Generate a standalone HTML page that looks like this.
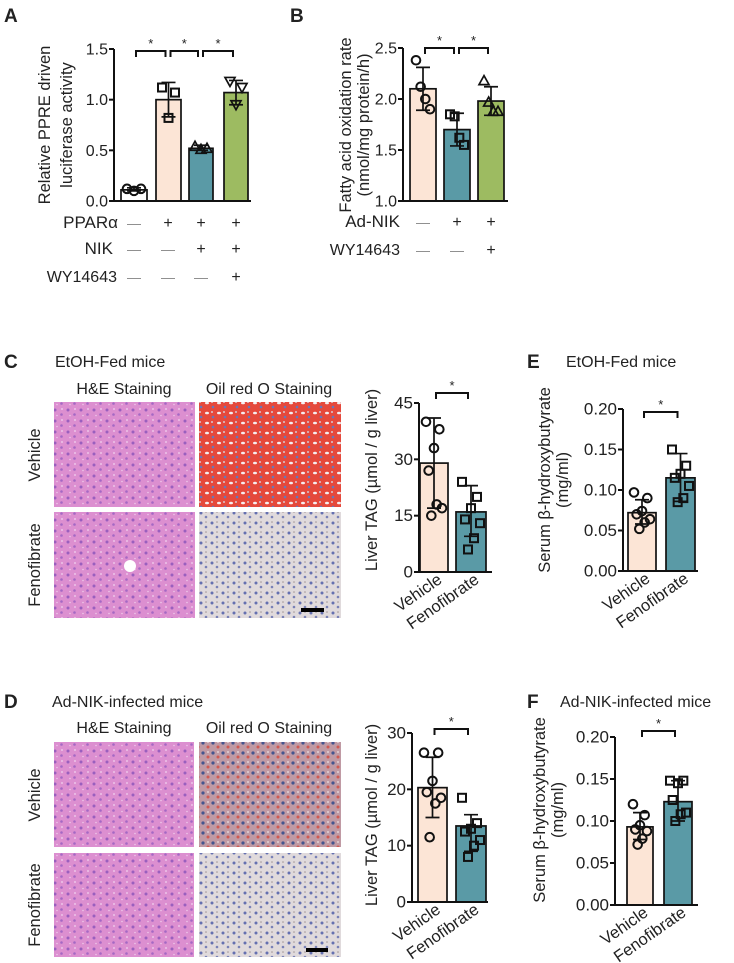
<!DOCTYPE html>
<html><head><meta charset="utf-8"><style>
body{margin:0;background:#fff;width:734px;height:963px;overflow:hidden}
svg{display:block;font-family:"Liberation Sans",sans-serif}
</style></head><body>
<svg id="fig" width="734" height="963" viewBox="0 0 734 963">
<defs>
<pattern id="he" width="13" height="11" patternUnits="userSpaceOnUse">
<rect width="13" height="11" fill="#dc8fd0"/><circle cx="3" cy="3" r="1.5" fill="#9a5fbe"/><circle cx="9.5" cy="7.5" r="1.3" fill="#a468c4"/><circle cx="10" cy="2" r="0.9" fill="#f1d2ef"/><circle cx="5" cy="8.5" r="0.8" fill="#eec8ea"/>
</pattern>
<pattern id="orRed" width="12" height="10" patternUnits="userSpaceOnUse">
<rect width="12" height="10" fill="#e5493c"/><ellipse cx="3" cy="3" rx="2" ry="1.3" fill="#f4eef0"/><circle cx="9" cy="7" r="1.3" fill="#6877b8"/><circle cx="8" cy="2" r="1" fill="#d8c6cf"/>
</pattern>
<pattern id="orBlue" width="11" height="10" patternUnits="userSpaceOnUse">
<rect width="11" height="10" fill="#e0dadc"/><circle cx="3" cy="3" r="1.5" fill="#6570b0"/><circle cx="8" cy="7" r="1.3" fill="#7880b6"/><circle cx="8" cy="2" r="0.8" fill="#a09596"/>
</pattern>
<pattern id="orMix" width="10" height="10" patternUnits="userSpaceOnUse">
<rect width="10" height="10" fill="#c09aa4"/><circle cx="3" cy="3" r="1.6" fill="#44558f"/><circle cx="8" cy="7" r="1.5" fill="#d05a52"/><circle cx="8" cy="2" r="0.9" fill="#ece2e4"/>
</pattern>
</defs>
</svg>
<script>
// ---- Panel A data ----
const aCats=["1","2","3","4"];
const aMeans=[0.11,1.0,0.52,1.07];
const aSdHi=[0.13,1.17,0.55,1.19];
const aSdLo=[0.10,0.83,0.50,0.95];
const aPts=[[0.12,0.12,0.10],[1.12,1.07,0.82],[0.54,0.52,0.51],[1.18,1.12,0.95]];
const aTicks=[0,0.5,1.0,1.5];
const aTickLabels=["0.0","0.5","1.0","1.5"];
// ---- Panel B data ----
const bMeans=[2.1,1.70,1.98];
const bSdHi=[2.31,1.86,2.12];
const bSdLo=[1.89,1.54,1.84];
const bPts=[[2.38,2.12,2.0,1.9],[1.85,1.83,1.62,1.55],[2.18,1.97,1.88,1.88]];
const bTicks=[1.0,1.5,2.0,2.5];
const bTickLabels=["1.0","1.5","2.0","2.5"];
// ---- Panel C chart ----
const cMeans=[29,16];
const cSdHi=[41,23];
const cSdLo=[17,9.5];
const cPts=[[40,38,33,27,17,18,15],[24,20,17,14,13,9,6]];
const cTicks=[0,15,30,45];
const cTickLabels=["0","15","30","45"];
// ---- Panel E chart ----
const eMeans=[0.072,0.115];
const eSdHi=[0.088,0.145];
const eSdLo=[0.058,0.086];
const ePts=[[0.097,0.09,0.074,0.07,0.064,0.06,0.052],[0.15,0.13,0.12,0.115,0.105,0.09,0.085]];
const eTicks=[0,0.05,0.10,0.15,0.20];
const eTickLabels=["0.00","0.05","0.10","0.15","0.20"];
// ---- Panel D chart ----
const dMeans=[20.3,13.5];
const dSdHi=[25.7,15.5];
const dSdLo=[15,9];
const dPts=[[26.5,26.5,21.5,19.5,18.5,17.5,11.5],[18.5,14,13,12.5,11,10,8]];
const dTicks=[0,10,20,30];
const dTickLabels=["0","10","20","30"];
// ---- Panel F chart ----
const fMeans=[0.093,0.123];
const fSdHi=[0.11,0.148];
const fSdLo=[0.078,0.1];
const fPts=[[0.12,0.107,0.095,0.09,0.088,0.079,0.072],[0.148,0.148,0.145,0.125,0.11,0.108,0.1]];
const fTicks=[0,0.05,0.10,0.15,0.20];
const fTickLabels=["0.00","0.05","0.10","0.15","0.20"];
const groupNames=["Vehicle","Fenofibrate"];

const NS="http://www.w3.org/2000/svg";
const svg=document.getElementById('fig');
function mk(tag,attrs,parent,txt){const e=document.createElementNS(NS,tag);for(const k in attrs)e.setAttribute(k,attrs[k]);if(txt!==undefined)e.textContent=txt;(parent||svg).appendChild(e);return e;}
function marker(g,kind,x,y){
  let e;
  if(kind==='circle'){e=mk('circle',{cx:x,cy:y,r:4.3,fill:'none',stroke:'#111','stroke-width':2},g);}
  else if(kind==='square'){e=mk('rect',{x:x-4,y:y-4,width:8,height:8,fill:'none',stroke:'#111','stroke-width':2},g);}
  else if(kind==='tri'){e=mk('polygon',{points:`${x},${y-5} ${x-5},${y+4} ${x+5},${y+4}`,fill:'none',stroke:'#111','stroke-width':1.7},g);}
  else {e=mk('polygon',{points:`${x},${y+5} ${x-5},${y-4} ${x+5},${y-4}`,fill:'none',stroke:'#111','stroke-width':1.7},g);}
  
  
}
function chart(c){
  const g=mk('g',{});
  
  
  const ys=v=>c.yB-(v-c.vmin)/(c.vmax-c.vmin)*(c.yB-c.yT);
  c.means.forEach((m,i)=>{
    const [x0,x1]=c.bx[i];const cx=(x0+x1)/2;
    const b=mk('rect',{x:x0,y:ys(m),width:x1-x0,height:c.yB-ys(m),fill:c.colors[i],stroke:'#111','stroke-width':1.7},g);
    
    
    const e=mk('path',{d:`M${cx},${ys(c.sdLo[i])}V${ys(c.sdHi[i])}M${cx-7},${ys(c.sdHi[i])}H${cx+7}M${cx-7},${ys(c.sdLo[i])}H${cx+7}`,stroke:'#111','stroke-width':1.7,fill:'none'},g);
    
    
    const pts=c.pts[i];const w=(x1-x0)-12;
    pts.forEach((p,j)=>{const off=pts.length>1?(-w/2+w*((j*5)%pts.length)/(pts.length-1)):0;marker(g,c.markers[i],cx+off,ys(p));});
  });
  const ax=mk('path',{d:`M${c.ax},${c.yT}V${c.yB}H${c.axEnd}`,stroke:'#111','stroke-width':2,fill:'none'},g);
  
  
  c.ticks.forEach((t,i)=>{
    mk('line',{x1:c.ax-5,x2:c.ax,y1:ys(t),y2:ys(t),stroke:'#111','stroke-width':2},g);
    const tl=mk('text',{x:c.ax-6,y:ys(t)+5.5,'text-anchor':'end','font-size':c.tfs,fill:'#222'},g,c.tickLabels[i]);
    
    
  });
  (c.brackets||[]).forEach(br=>{
    const ca=(c.bx[br[0]][0]+c.bx[br[0]][1])/2+2, cb=(c.bx[br[1]][0]+c.bx[br[1]][1])/2-3;
    const p=mk('path',{d:`M${ca},${br[2]+6}V${br[2]}H${cb}V${br[2]+6}`,stroke:'#111','stroke-width':2,fill:'none'},g);
    
    
    const s=mk('text',{x:(ca+cb)/2,y:br[2]-3,'text-anchor':'middle','font-size':13,fill:'#222'},g,'*');
    
    
  });
  if(c.xlabels){c.means.forEach((m,i)=>{const cx=(c.bx[i][0]+c.bx[i][1])/2+9;const yy=c.yB+10;
    const t=mk('text',{x:cx,y:yy,'text-anchor':'end','font-size':16.5,fill:'#222',transform:`rotate(-35 ${cx} ${yy})`},g,c.xlabels[i]);
    
    });}
  c.title.forEach(tt=>{const t=mk('text',{x:tt[0],y:tt[1],'text-anchor':'middle','font-size':16.5,fill:'#222',transform:`rotate(-90 ${tt[0]} ${tt[1]})`},g,tt[2]);
    
    });
}
const cPeach='#fce5d6',cTeal='#5a9aa6',cGreen='#9dbb61';
chart({name:'chart-a',tfs:16,ax:114,axEnd:251,yT:49,yB:201,vmin:0,vmax:1.5,ticks:aTicks,tickLabels:aTickLabels,means:aMeans,sdHi:aSdHi,sdLo:aSdLo,pts:aPts,
  bx:[[121,147],[156,181],[189,213],[224,248]],colors:['#fff',cPeach,cTeal,cGreen],markers:['circle','square','tri','dtri'],
  brackets:[[0,1,51],[1,2,51],[2,3,51]],title:[[50,125,'Relative PPRE driven'],[72,125,'luciferase activity']]});
chart({name:'chart-b',tfs:16,ax:403,axEnd:508,yT:48,yB:201,vmin:1,vmax:2.5,ticks:bTicks,tickLabels:bTickLabels,means:bMeans,sdHi:bSdHi,sdLo:bSdLo,pts:bPts,
  bx:[[410,436],[444,470],[478,504]],colors:[cPeach,cTeal,cGreen],markers:['circle','square','tri'],
  brackets:[[0,1,48],[1,2,48]],title:[[351,125,'Fatty acid oxidation rate'],[369,125,'(nmol/mg protein/h)']]});
chart({name:'chart-c',tfs:17,ax:419,axEnd:492,yT:403,yB:572,vmin:0,vmax:45,ticks:cTicks,tickLabels:cTickLabels,means:cMeans,sdHi:cSdHi,sdLo:cSdLo,pts:cPts,
  bx:[[420,448],[456,486]],colors:[cPeach,cTeal],markers:['circle','square'],brackets:[[0,1,393]],xlabels:groupNames,title:[[377,480,'Liver TAG (µmol / g liver)']]});
chart({name:'chart-e',tfs:17,ax:623,axEnd:698,yT:409,yB:571,vmin:0,vmax:0.2,ticks:eTicks,tickLabels:eTickLabels,means:eMeans,sdHi:eSdHi,sdLo:eSdLo,pts:ePts,
  bx:[[628,656],[666,695]],colors:[cPeach,cTeal],markers:['circle','square'],brackets:[[0,1,412]],xlabels:groupNames,title:[[550,480,'Serum β-hydroxybutyrate'],[568,480,'(mg/ml)']]});
chart({name:'chart-d',tfs:17,ax:412,axEnd:488,yT:733,yB:902,vmin:0,vmax:30,ticks:dTicks,tickLabels:dTickLabels,means:dMeans,sdHi:dSdHi,sdLo:dSdLo,pts:dPts,
  bx:[[418,447],[456,486]],colors:[cPeach,cTeal],markers:['circle','square'],brackets:[[0,1,729]],xlabels:groupNames,title:[[377,815,'Liver TAG (µmol / g liver)']]});
chart({name:'chart-f',tfs:17,ax:615,axEnd:698,yT:737,yB:905,vmin:0,vmax:0.2,ticks:fTicks,tickLabels:fTickLabels,means:fMeans,sdHi:fSdHi,sdLo:fSdLo,pts:fPts,
  bx:[[627,653],[664,692]],colors:[cPeach,cTeal],markers:['circle','square'],brackets:[[0,1,731]],xlabels:groupNames,title:[[545,810,'Serum β-hydroxybutyrate'],[563,810,'(mg/ml)']]});

function txt(x,y,s,size,name,opts){const t=mk('text',Object.assign({x:x,y:y,'font-size':size,fill:'#222'},opts||{}),svg,s);
  
  return t;}
txt(4,22,'A',19,'panel-label-a',{'font-weight':'bold'});
txt(290,22,'B',19,'panel-label-b',{'font-weight':'bold'});
txt(4,368,'C',19,'panel-label-c',{'font-weight':'bold'});
txt(527,368,'E',19,'panel-label-e',{'font-weight':'bold'});
txt(4,708,'D',19,'panel-label-d',{'font-weight':'bold'});
txt(527,708,'F',19,'panel-label-f',{'font-weight':'bold'});
txt(55,367,'EtOH-Fed mice',16,'title-c');
txt(566,367,'EtOH-Fed mice',16,'title-e');
txt(52,707,'Ad-NIK-infected mice',16,'title-d');
txt(560,707,'Ad-NIK-infected mice',16,'title-f');
txt(118,228,'PPARα',17,'row-ppara',{'text-anchor':'end'});
txt(113,254,'NIK',17,'row-nik',{'text-anchor':'end'});
txt(117,282,'WY14643',16,'row-wy-a',{'text-anchor':'end'});
const aRowMarks=[['—','+','+','+'],['—','—','+','+'],['—','—','—','+']];
const aRowY=[228,254,282];const aCx=[134,168,201,236];
aRowMarks.forEach((r,ri)=>r.forEach((m,i)=>txt(aCx[i],aRowY[ri],m,m==='+'?16:14,'treatment-mark',{'text-anchor':'middle',fill:m==='+'?'#222':'#888'})));
txt(400,227,'Ad-NIK',17,'row-adnik',{'text-anchor':'end'});
txt(400,255,'WY14643',16,'row-wy-b',{'text-anchor':'end'});
const bRowMarks=[['—','+','+'],['—','—','+']];const bRowY=[227,255];const bCx=[423,457,491];
bRowMarks.forEach((r,ri)=>r.forEach((m,i)=>txt(bCx[i],bRowY[ri],m,m==='+'?16:14,'treatment-mark',{'text-anchor':'middle',fill:m==='+'?'#222':'#888'})));
function img(x,y,w,h,fill,name){const r=mk('rect',{x:x,y:y,width:w,height:h,fill:fill});
  
  }
txt(124,394,'H&E Staining',16,'header-he-c',{'text-anchor':'middle'});
txt(269,394,'Oil red O Staining',16,'header-oro-c',{'text-anchor':'middle'});
img(54,402,141,105,'url(#he)','he-vehicle-c');
img(199,402,142,105,'url(#orRed)','oro-vehicle-c');
img(54,512,141,106,'url(#he)','he-fenofibrate-c');
img(199,512,142,106,'url(#orBlue)','oro-fenofibrate-c');
mk('circle',{cx:130,cy:566,r:6,fill:'#fff'});
mk('rect',{x:301,y:608,width:23,height:4,fill:'#000'});
txt(124,733,'H&E Staining',16,'header-he-d',{'text-anchor':'middle'});
txt(269,733,'Oil red O Staining',16,'header-oro-d',{'text-anchor':'middle'});
img(54,742,140,105,'url(#he)','he-vehicle-d');
img(199,742,142,105,'url(#orMix)','oro-vehicle-d');
img(54,853,140,104,'url(#he)','he-fenofibrate-d');
img(199,853,142,104,'url(#orBlue)','oro-fenofibrate-d');
mk('rect',{x:306,y:948,width:22,height:4,fill:'#000'});
[[40,455,'Vehicle'],[40,565,'Fenofibrate'],[40,795,'Vehicle'],[40,905,'Fenofibrate']].forEach(r=>{
  txt(r[0],r[1],r[2],16.5,'row-label-'+r[2].toLowerCase(),{'text-anchor':'middle',transform:`rotate(-90 ${r[0]} ${r[1]})`});});
</script>
</body></html>
